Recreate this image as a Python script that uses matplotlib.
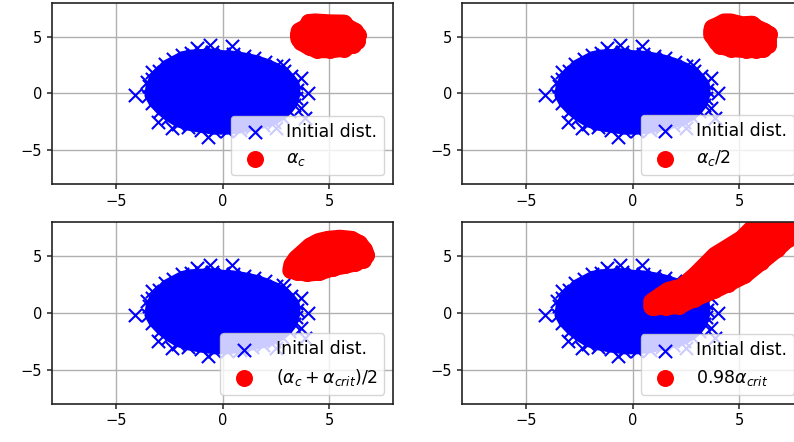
import numpy as np
import matplotlib
matplotlib.use('Agg')
import matplotlib.pyplot as plt

# initial distribution (same in all panels): edge of the dense cloud + visible stray points
blue_edge_x = [-3.5, -3.45, -3.3, -3.0, -2.7, -2.3, -1.9, -1.5, -1.0, -0.5, 0.0, 0.5,
               1.0, 1.5, 2.0, 2.5, 2.9, 3.2, 3.45, 3.5, 3.45, 3.35, 3.1, 2.8, 2.4,
               1.9, 1.4, 0.8, 0.2, -0.4, -1.0, -1.6, -2.1, -2.55, -2.95, -3.3]
blue_edge_y = [-0.2, 0.6, 1.3, 2.0, 2.6, 3.0, 3.4, 3.55, 3.6, 3.65, 3.5, 3.45,
               3.3, 3.1, 2.8, 2.4, 2.0, 1.5, 0.9, 0.3, -0.4, -1.0, -1.6, -2.1, -2.5,
               -2.8, -3.0, -3.25, -3.35, -3.35, -3.2, -3.0, -2.7, -2.2, -1.6, -0.9]
blue_out_x = [-4.11, 0.45, -3.33, -3.56, -3.02, -2.39, -0.67, 3.7, 4.01, 3.7, 3.86,
              2.53, -1.22, -0.6, 2.84]
blue_out_y = [-0.15, 4.2, 1.9, 1.03, -2.5, -3.09, -3.83, 1.32, 0.0, -1.32, -2.2,
              -3.09, 3.97, 4.26, 2.5]

# transformed distributions (edge points of each red cloud)
red_a_x = [3.56, 3.6, 4.0, 4.05, 4.35, 5.03, 5.7, 5.85, 6.2, 6.35, 6.3, 6.1, 5.7,
           5.03, 4.45, 4.1, 3.7, 3.58]
red_a_y = [5.15, 5.5, 5.9, 6.25, 6.3, 6.22, 6.2, 5.85, 5.5, 5.1, 4.6, 4.3, 3.95,
           3.84, 3.84, 4.05, 4.5, 4.8]

red_b_x = [3.71, 3.75, 4.0, 4.3, 4.6, 5.15, 5.6, 5.85, 6.15, 6.4, 6.35, 6.35, 6.1,
           5.8, 5.34, 4.6, 4.1, 3.95, 3.85, 3.71]
red_b_y = [5.5, 5.8, 6.0, 6.3, 6.3, 6.05, 6.1, 5.75, 5.5, 5.2, 4.65, 4.25, 3.9,
           3.85, 3.84, 3.95, 4.2, 4.5, 4.8, 5.15]

red_c_x = [3.2, 3.25, 3.45, 3.75, 4.1, 4.5, 4.95, 5.5, 6.05, 6.4, 6.65, 6.75, 6.6,
           6.2, 5.75, 5.2, 4.55, 3.95, 3.5]
red_c_y = [3.75, 4.25, 4.8, 5.3, 5.9, 6.3, 6.5, 6.6, 6.5, 6.15, 5.6, 5.1, 4.7,
           4.4, 4.2, 4.0, 3.6, 3.5, 3.65]

red_d_x = [0.9, 0.9, 1.22, 1.68, 2.3, 2.94, 3.41, 3.87, 4.5, 5.13, 5.6, 6.5, 8.5, 10.0,
           10.0, 8.5, 7.3, 6.8, 6.03, 5.25, 4.47, 3.84, 2.9, 2.2, 1.59, 1.0]
red_d_y = [0.55, 1.0, 1.42, 2.0, 2.3, 3.34, 4.22, 5.1, 5.83, 6.57, 7.45, 8.6, 9.8, 10.0,
           8.5, 7.5, 6.55, 5.67, 4.5, 3.32, 2.58, 2.0, 1.26, 0.65, 0.55, 0.55]

red_x = [red_a_x, red_b_x, red_c_x, red_d_x]
red_y = [red_a_y, red_b_y, red_c_y, red_d_y]
labels = [r'$\alpha_c$', r'$\alpha_c/2$', r'$(\alpha_c+\alpha_{crit})/2$',
          r'$0.98\alpha_{crit}$']

fig = plt.figure(figsize=(7.94, 4.42), dpi=100)
fig.patch.set_facecolor('white')
pos = [[0.0655, 0.584, 0.4295, 0.41], [0.5819, 0.584, 0.4295, 0.41],
       [0.0655, 0.087, 0.4295, 0.41], [0.5819, 0.087, 0.4295, 0.41]]

for i in range(4):
    ax = fig.add_axes(pos[i])
    ax.set_axisbelow(True)
    ax.grid(True, color='#b0b0b0', linewidth=1.0)
    # dense initial cloud (polygon through the edge markers, thick edge = marker overlap)
    ax.fill(blue_edge_x, blue_edge_y, facecolor='b', edgecolor='b', linewidth=5,
            joinstyle='round')
    ax.scatter(blue_edge_x + blue_out_x, blue_edge_y + blue_out_y, marker='x', c='b',
               s=90, linewidths=1.5, label='Initial dist.')
    # transformed cloud: round-joined edge as wide as the marker gives the union of the dots
    ax.fill(red_x[i], red_y[i], facecolor='r', edgecolor='r', linewidth=12.2,
            joinstyle='round')
    ax.scatter(red_x[i], red_y[i], marker='o', c='r', s=150, linewidths=0, label=labels[i])
    ax.set_xlim(-8, 8)
    ax.set_ylim(-8, 8)
    ax.set_xticks([-5, 0, 5])
    ax.set_yticks([-5, 0, 5])
    ax.tick_params(labelsize=10.5, color='#222222', width=1.1)
    for sp in ax.spines.values():
        sp.set_color('#222222')
        sp.set_linewidth(1.2)
    ax.legend(loc='lower right', fontsize=12.5)

plt.savefig('out.png', dpi=100)
